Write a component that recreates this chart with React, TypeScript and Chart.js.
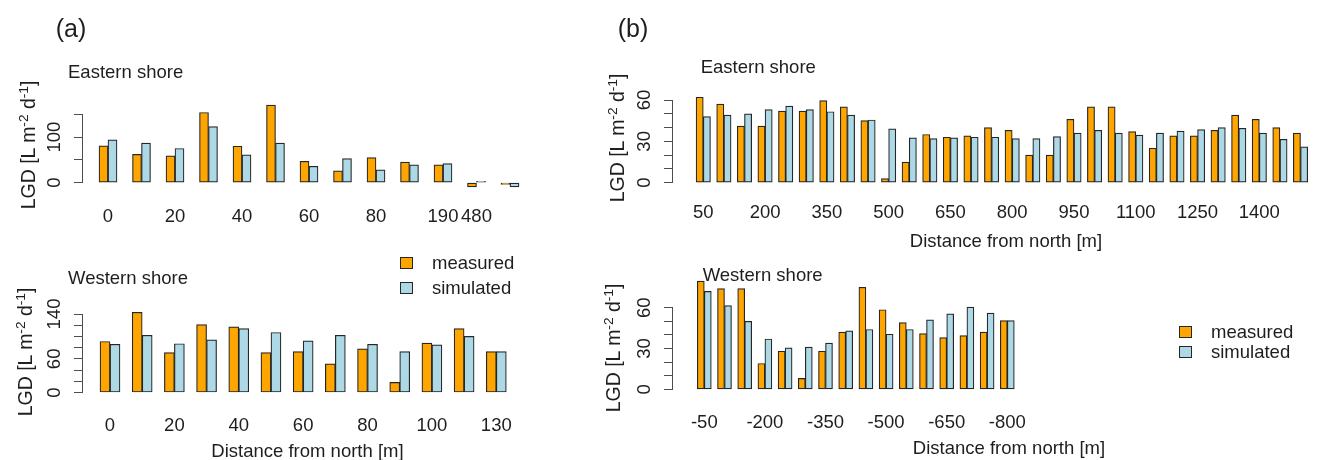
import React, { useEffect, useRef } from "react";
import { Chart, registerables } from "chart.js";

Chart.register(...registerables);

const PAGE_W = 1317;
const PAGE_H = 460;
const FONT_FAMILY = '"Liberation Sans", Arial, Helvetica, sans-serif';
const TEXT_COLOR = "#1e1e1e";
const AXIS_COLOR = "#4d4d4d";
const EDGE_COLOR = "#262626";
const MEASURED_COLOR = "#FFA500";
const SIMULATED_COLOR = "#ADD8E6";

const seriesNames = ["measured", "simulated"];

// (a) Eastern shore
const aEastTickLabels = ["0", "", "20", "", "40", "", "60", "", "80", "", "190", "480", ""];
const aEastMeasured = [81, 62, 59, 154, 80, 170, 47, 26, 55, 45, 39, -9, -4];
const aEastSimulated = [94, 87, 75, 123, 61, 87, 36, 53, 28, 39, 42, 3, -9];
const aEastYTicks = [0, 50, 100, 150];
const aEastYLabels = [0, 100];

// (a) Western shore
const aWestTickLabels = ["0", "", "20", "", "40", "", "60", "", "80", "", "100", "", "130"];
const aWestMeasured = [91, 143, 71, 121, 117, 71, 73, 51, 78, 18, 88, 114, 73];
const aWestSimulated = [86, 102, 87, 94, 114, 107, 92, 102, 86, 73, 85, 100, 73];
const aWestYTicks = [0, 20, 40, 60, 80, 100, 120, 140];
const aWestYLabels = [0, 60, 140];

// (b) Eastern shore
const bEastCategories = [
  "50", "100", "150", "200", "250", "300", "350", "400", "450", "500",
  "550", "600", "650", "700", "750", "800", "850", "900", "950", "1000",
  "1050", "1100", "1150", "1200", "1250", "1300", "1350", "1400", "1450", "1500",
];
const bEastShownTicks = ["50", "200", "350", "500", "650", "800", "950", "1100", "1250", "1400"];
const bEastMeasured = [
  62, 57, 41, 41, 52, 52, 59.5, 55, 45, 3,
  15, 35, 33, 34, 40, 38, 20, 20, 46, 55,
  55, 37, 25, 34, 34, 38, 49, 46, 40, 36,
];
const bEastSimulated = [
  48, 49, 50, 53, 55.5, 53, 51.5, 49, 45.5, 39,
  32.5, 32, 32.5, 33, 33, 32, 32, 33.5, 36, 38,
  36, 34.5, 36, 37.5, 38.5, 40, 39.5, 36, 31.5, 26,
];
const bEastYTicks = [0, 10, 20, 30, 40, 50, 60];
const bEastYLabels = [0, 30, 60];

// (b) Western shore
const bWestCategories = [
  "-50", "-100", "-150", "-200", "-250", "-300", "-350", "-400",
  "-450", "-500", "-550", "-600", "-650", "-700", "-750", "-800",
];
const bWestShownTicks = ["-50", "-200", "-350", "-500", "-650", "-800"];
const bWestMeasured = [79.5, 74, 74, 19, 28, 8, 28, 42, 75, 58.5, 49, 41, 38, 39.5, 42, 50.5];
const bWestSimulated = [72, 61.5, 50, 37, 30.5, 31, 34, 43, 44, 40.5, 44, 51, 55.5, 60.5, 56, 50.5];
const bWestYTicks = [0, 10, 20, 30, 40, 50, 60];
const bWestYLabels = [0, 30, 60];

type Geom = {
  axisX: number;
  topY: number;
  zeroY: number;
  firstX: number;
  lastX: number;
  barW: number;
  xPad: number;
  yPad: number;
};

type PanelProps = {
  geom: Geom;
  labels: string[];
  shown: string[];
  measured: number[];
  simulated: number[];
  yTicks: number[];
  yLabels: number[];
};

const TICK_FONT = { family: FONT_FAMILY, size: 18.5 };

function BarPanel(props: PanelProps) {
  const ref = useRef<HTMLCanvasElement | null>(null);
  useEffect(() => {
    const { geom, labels, shown, measured, simulated, yTicks, yLabels } = props;
    const n = labels.length;
    const step = (geom.lastX - geom.firstX) / (n - 1);
    const right = geom.lastX + step * 0.8;
    const xMin = -(geom.firstX - geom.axisX) / step;
    const xMax = n - 1 + (right - geom.lastX) / step;
    const yMax = yTicks[yTicks.length - 1];
    const mk = (vals: number[], i: number, color: string) => ({
      label: seriesNames[i],
      data: vals.map((v, k) => ({ x: k, y: v })),
      backgroundColor: color,
      borderColor: EDGE_COLOR,
      borderWidth: 1.2,
      borderSkipped: false,
      barThickness: geom.barW,
      clip: false as any,
    });
    const chart = new Chart(ref.current as HTMLCanvasElement, {
      type: "bar",
      data: {
        datasets: [mk(measured, 0, MEASURED_COLOR), mk(simulated, 1, SIMULATED_COLOR)] as any,
      },
      options: {
        animation: false,
        responsive: false,
        events: [],
        layout: { padding: { top: geom.topY, right: PAGE_W - right, left: 0, bottom: 0 } },
        plugins: { legend: { display: false }, tooltip: { enabled: false }, title: { display: false } },
        scales: {
          x: {
            type: "linear",
            min: xMin,
            max: xMax,
            bounds: "data",
            offset: false,
            grid: { display: false, drawTicks: false },
            border: { display: false },
            afterBuildTicks: (s: any) => {
              s.ticks = labels.map((_, i) => ({ value: i }));
            },
            afterFit: (s: any) => {
              s.height = PAGE_H - geom.zeroY;
              s.paddingLeft = 0;
              s.paddingRight = 0;
            },
            ticks: {
              autoSkip: false,
              minRotation: 0,
              maxRotation: 0,
              padding: geom.xPad,
              color: TEXT_COLOR,
              font: TICK_FONT,
              callback: (v: any) => {
                const l = labels[Math.round(Number(v))];
                return l !== undefined && shown.includes(l) ? l : "";
              },
            },
          } as any,
          y: {
            type: "linear",
            min: 0,
            max: yMax,
            bounds: "data",
            grid: { drawOnChartArea: false, drawTicks: true, tickLength: 8, color: AXIS_COLOR, tickColor: AXIS_COLOR },
            border: { display: true, color: AXIS_COLOR, width: 1 },
            afterBuildTicks: (s: any) => {
              s.ticks = yTicks.map((v) => ({ value: v }));
            },
            afterFit: (s: any) => {
              s.width = geom.axisX;
              s.paddingTop = 0;
              s.paddingBottom = 0;
            },
            ticks: {
              autoSkip: false,
              minRotation: 90,
              maxRotation: 90,
              crossAlign: "center",
              padding: geom.yPad,
              color: TEXT_COLOR,
              font: TICK_FONT,
              callback: (v: any) => (yLabels.includes(Number(v)) ? String(v) : ""),
            },
          } as any,
        },
      },
    });
    return () => chart.destroy();
  }, []);
  return (
    <canvas
      ref={ref}
      width={PAGE_W}
      height={PAGE_H}
      style={{ position: "absolute", left: 0, top: 0, width: PAGE_W, height: PAGE_H }}
    />
  );
}

function Txt(props: { x: number; y: number; size: number; text: string; center?: boolean }) {
  return (
    <div
      style={{
        position: "absolute",
        left: props.x,
        top: props.y,
        transform: props.center ? "translate(-50%,-50%)" : "translateY(-50%)",
        fontSize: props.size,
        lineHeight: 1,
        whiteSpace: "nowrap",
        fontFamily: FONT_FAMILY,
        color: TEXT_COLOR,
      }}
    >
      {props.text}
    </div>
  );
}

const supStyle: React.CSSProperties = { fontSize: "70%", verticalAlign: "0.5em", lineHeight: 0 };

function YLabel(props: { cx: number; cy: number; size: number }) {
  return (
    <div
      style={{
        position: "absolute",
        left: props.cx,
        top: props.cy,
        transform: "translate(-50%,-50%) rotate(-90deg)",
        fontSize: props.size,
        lineHeight: 1,
        whiteSpace: "nowrap",
        fontFamily: FONT_FAMILY,
        color: TEXT_COLOR,
      }}
    >
      LGD [L m<sup style={supStyle}>-2</sup> d<sup style={supStyle}>-1</sup>]
    </div>
  );
}

function Legend(props: { x: number; y: number; gap: number }) {
  const colors = [MEASURED_COLOR, SIMULATED_COLOR];
  return (
    <>
      {seriesNames.map((name, i) => (
        <React.Fragment key={name}>
          <div
            style={{
              position: "absolute",
              left: props.x,
              top: props.y + i * props.gap - 6,
              width: 11,
              height: 10,
              background: colors[i],
              border: `1px solid ${EDGE_COLOR}`,
            }}
          />
          <Txt x={props.x + 32} y={props.y + i * props.gap} size={18.5} text={name} />
        </React.Fragment>
      ))}
    </>
  );
}

export default function App() {
  return (
    <div
      style={{
        position: "absolute",
        left: 0,
        top: 0,
        width: PAGE_W,
        height: PAGE_H,
        background: "#ffffff",
        overflow: "hidden",
      }}
    >
      <BarPanel
        geom={{ axisX: 82, topY: 114.3, zeroY: 182.7, firstX: 108, lastX: 510, barW: 9, xPad: 23, yPad: 3.5 }}
        labels={aEastTickLabels}
        shown={aEastTickLabels.filter((l) => l !== "")}
        measured={aEastMeasured}
        simulated={aEastSimulated}
        yTicks={aEastYTicks}
        yLabels={aEastYLabels}
      />
      <BarPanel
        geom={{ axisX: 82, topY: 314, zeroY: 392.5, firstX: 110, lastX: 496.3, barW: 10, xPad: 22, yPad: 3.5 }}
        labels={aWestTickLabels}
        shown={aWestTickLabels.filter((l) => l !== "")}
        measured={aWestMeasured}
        simulated={aWestSimulated}
        yTicks={aWestYTicks}
        yLabels={aWestYLabels}
      />
      <BarPanel
        geom={{ axisX: 672, topY: 100, zeroY: 182.7, firstX: 703.7, lastX: 1309, barW: 7.2, xPad: 19.5, yPad: 8.5 }}
        labels={bEastCategories}
        shown={bEastShownTicks}
        measured={bEastMeasured}
        simulated={bEastSimulated}
        yTicks={bEastYTicks}
        yLabels={bEastYLabels}
      />
      <BarPanel
        geom={{ axisX: 672, topY: 307.7, zeroY: 389.3, firstX: 704.3, lastX: 1007.3, barW: 7, xPad: 23, yPad: 8.5 }}
        labels={bWestCategories}
        shown={bWestShownTicks}
        measured={bWestMeasured}
        simulated={bWestSimulated}
        yTicks={bWestYTicks}
        yLabels={bWestYLabels}
      />

      <Txt x={71} y={28} size={25} text="(a)" center />
      <Txt x={633} y={28} size={25} text="(b)" center />

      <Txt x={68} y={72} size={18.5} text="Eastern shore" />
      <Txt x={68} y={278} size={18.5} text="Western shore" />
      <Txt x={700.7} y={67} size={18.5} text="Eastern shore" />
      <Txt x={702.7} y={275} size={18.5} text="Western shore" />

      <Txt x={307.5} y={451} size={18.5} text="Distance from north [m]" center />
      <Txt x={1006} y={241} size={18.5} text="Distance from north [m]" center />
      <Txt x={1009} y={448} size={18.5} text="Distance from north [m]" center />

      <YLabel cx={29} cy={145} size={19.5} />
      <YLabel cx={26} cy={352} size={19.5} />
      <YLabel cx={618} cy={138} size={19.5} />
      <YLabel cx={614} cy={348} size={19.5} />

      <Legend x={400} y={262.5} gap={25} />
      <Legend x={1179} y={331.5} gap={20.5} />
    </div>
  );
}
